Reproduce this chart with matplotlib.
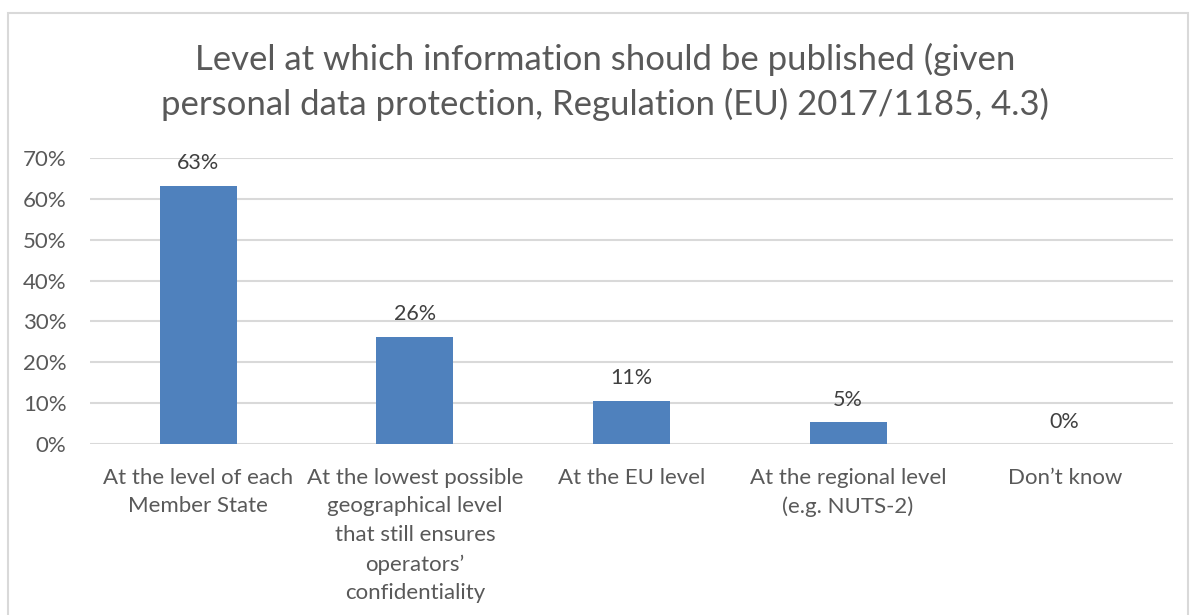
import matplotlib

matplotlib.use("Agg")

import matplotlib.pyplot as plt
from matplotlib.patches import Rectangle
from matplotlib.ticker import PercentFormatter

categories = [
    "At the level of each\nMember State",
    "At the lowest possible\ngeographical level\nthat still ensures\noperators\u2019\nconfidentiality",
    "At the EU level",
    "At the regional level\n(e.g. NUTS-2)",
    "Don\u2019t know",
]
shares = [0.632, 0.263, 0.106, 0.053, 0.0]
yticks = [0, 0.1, 0.2, 0.3, 0.4, 0.5, 0.6, 0.7]

title = ("Level at which information should be published (given\n"
         "personal data protection, Regulation (EU) 2017/1185, 4.3)")

BAR = "#4F81BD"
TEXT = "#595959"
GRID = "#D9D9D9"

plt.rcParams["font.family"] = ["Lato", "DejaVu Sans"]

W, H = 1190, 615
fig = plt.figure(figsize=(W / 100, H / 100), dpi=100)

# chart frame
fig.patches.append(Rectangle((8 / W, -0.05), 1180 / W, 1.05 - 13 / H,
                             transform=fig.transFigure, fill=False,
                             edgecolor=GRID, linewidth=1.5))

ax = fig.add_axes([90 / W, 1 - 444 / H, (1173 - 90) / W, (444 - 158) / H])

x = range(len(categories))
bars = ax.bar(x, shares, width=0.355, color=BAR, zorder=2)

for b, v in zip(bars, shares):
    ax.text(b.get_x() + b.get_width() / 2, v + 0.055, f"{v:.0%}",
            ha="center", va="center", fontsize=15.5, color="#404040")

ax.set_xlim(-0.5, len(categories) - 0.5)
ax.set_ylim(0, 0.7)
ax.set_yticks(yticks)
ax.yaxis.set_major_formatter(PercentFormatter(1.0, decimals=0))
ax.set_xticks(list(x))
ax.set_xticklabels(categories, fontsize=16, color=TEXT, linespacing=1.55)
ax.tick_params(axis="y", length=0, pad=17, labelsize=16, labelcolor=TEXT)
ax.tick_params(axis="x", length=0, pad=17)
ax.grid(axis="y", color=GRID, linewidth=1.5, zorder=0)
for s in ax.spines.values():
    s.set_visible(False)

fig.text(605 / W, 1 - 82 / H, title, ha="center", va="center",
         fontsize=25, color=TEXT, linespacing=1.45)

fig.savefig("out.png", dpi=100)
